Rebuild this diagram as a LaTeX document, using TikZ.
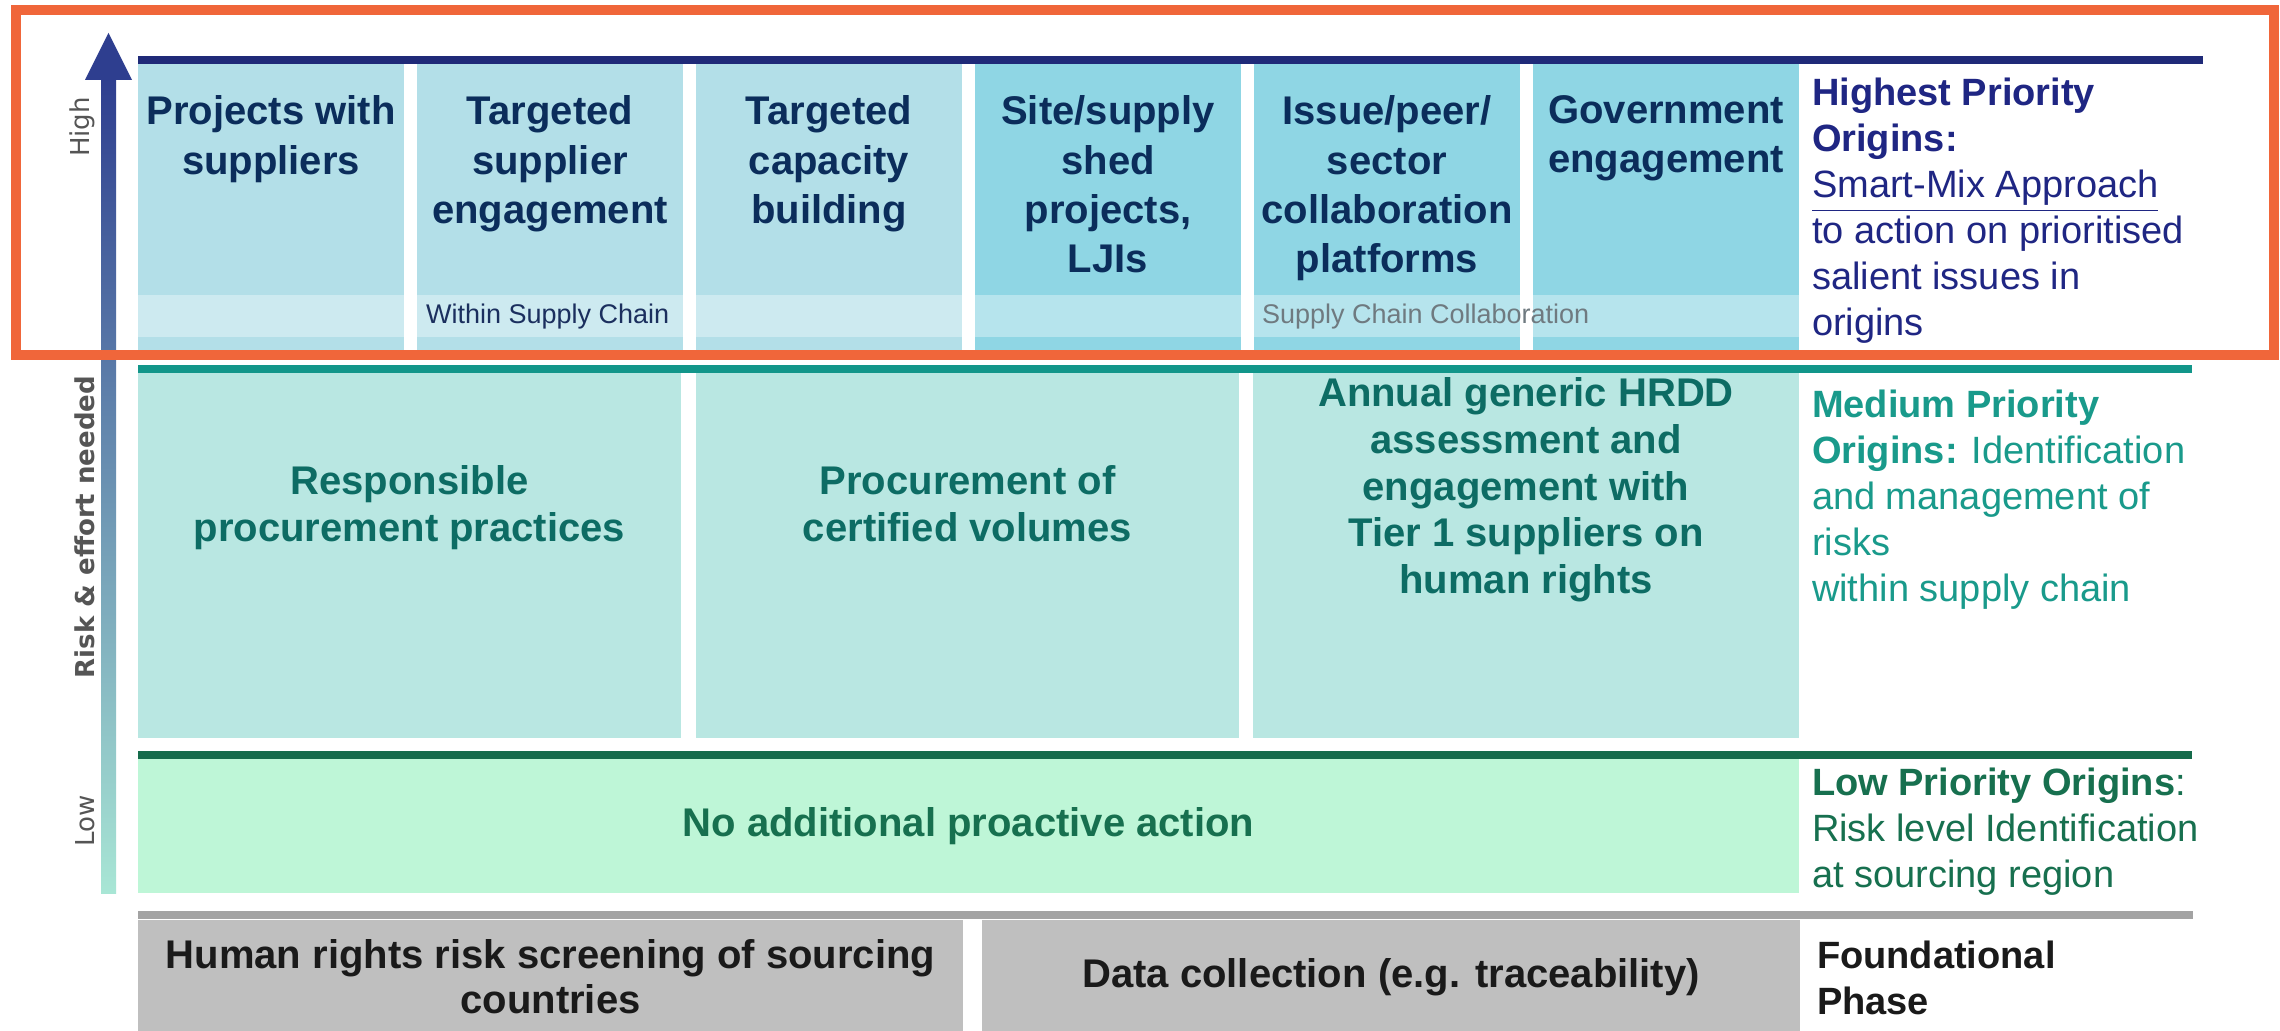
\documentclass[tikz,border=0pt]{standalone}
\usepackage{fontspec}
\setmainfont{Liberation Sans}
\newfontfamily\dvs{DejaVu Sans}
\definecolor{orangeR}{HTML}{F0663A}
\definecolor{navyL}{HTML}{1F2A78}
\definecolor{colL}{HTML}{B3DFE8}
\definecolor{colD}{HTML}{8FD6E4}
\definecolor{topTxt}{HTML}{0B2D5B}
\definecolor{hiTxt}{HTML}{1F2683}
\definecolor{bandTxt}{HTML}{1B2F5E}
\definecolor{bandGray}{HTML}{6F7A80}
\definecolor{tealL}{HTML}{12968A}
\definecolor{midBox}{HTML}{B9E7E2}
\definecolor{midTxt}{HTML}{0D6C64}
\definecolor{medTxt}{HTML}{199A8B}
\definecolor{greenL}{HTML}{156B4B}
\definecolor{lowBox}{HTML}{BEF6D7}
\definecolor{lowTxt}{HTML}{17704F}
\definecolor{grayL}{HTML}{A3A3A3}
\definecolor{grayBox}{HTML}{BFBFBF}
\definecolor{darkTxt}{HTML}{1A1A1A}
\definecolor{arrTop}{HTML}{2E3E8F}
\definecolor{arrMid}{HTML}{6E9CBF}
\definecolor{arrBot}{HTML}{A8E6D5}
\definecolor{axisTxt}{HTML}{555555}
\newcommand\fTop{\fontsize{11.38pt}{13.94pt}\selectfont\bfseries}
\newcommand\fMid{\fontsize{11.38pt}{13.23pt}\selectfont\bfseries}
\newcommand\fFnd{\fontsize{11.38pt}{12.8pt}\selectfont\bfseries}
\newcommand\fRight{\fontsize{10.81pt}{13.09pt}\selectfont}
\newcommand\fBand{\fontsize{7.68pt}{9pt}\selectfont}
\newcommand\fAxis{\dvs\fontsize{7.4pt}{9pt}\selectfont}
\begin{document}
\begin{tikzpicture}[x=0.01cm,y=-0.01cm,
  every node/.style={inner sep=0pt,outer sep=0pt},
  toptxt/.style={font=\fTop,text=topTxt,align=center,anchor=north},
  midtxt/.style={font=\fMid,text=midTxt,align=center,anchor=north},
  fndtxt/.style={font=\fFnd,text=darkTxt,align=center},
  righttxt/.style={font=\fRight,align=left,anchor=north west},
  bandtxt/.style={font=\fBand,anchor=west},
  axistxt/.style={font=\fAxis,text=axisTxt,rotate=90},
  sepline/.style={line width=2.1pt}]
\useasboundingbox (0,0) rectangle (2280,1031);
\fill[white] (0,0) rectangle (2280,1031);

% vertical arrow
\shade[top color=arrTop,middle color=arrMid,bottom color=arrBot] (101,78) rectangle (116,893);
\fill[arrTop] (85,80) -- (108.5,33) -- (132,80) -- cycle;
\node[axistxt] (high) at (82,127) {High};
\node[axistxt,font=\fAxis\bfseries] (risk) at (85,527) {Risk \& effort needed};
\node[axistxt] (low) at (85,821) {Low};

% top tier
\draw[sepline,navyL] (138,60) -- (2203,60);
\foreach \i/\c in {0/colL,1/colL,2/colL,3/colD,4/colD,5/colD}{
  \fill[\c] ({138+279*\i},64) rectangle ({404+279*\i},350);
  \fill[white,opacity=0.35] ({138+279*\i},295) rectangle ({404+279*\i},337);
}
\node[toptxt] (t1) at (271,96) {Projects with\\suppliers};
\node[toptxt] (t2) at (550,96) {Targeted\\supplier\\engagement};
\node[toptxt] (t3) at (829,96) {Targeted\\capacity\\building};
\node[toptxt] (t4) at (1108,96) {Site/supply\\shed\\projects,\\LJIs};
\node[toptxt] (t5) at (1387,96) {Issue/peer/\\sector\\collaboration\\platforms};
\node[toptxt] (t6) at (1666,96) {Government\\engagement};
\node[bandtxt,text=bandTxt] (wsc) at (426,317) {Within Supply Chain};
\node[bandtxt,text=bandGray] (scc) at (1262,317) {Supply Chain Collaboration};
\node[righttxt,text=hiTxt] (hp) at (1812,78) {\textbf{Highest Priority}\\\textbf{Origins:}\\\underline{Smart-Mix Approach}\\to action on prioritised\\salient issues in\\origins};

% medium tier
\draw[sepline,tealL] (138,369) -- (2192,369);
\fill[midBox] (138,373) rectangle (681,738);
\fill[midBox] (696,373) rectangle (1239,738);
\fill[midBox] (1253,373) rectangle (1799,738);
\node[midtxt] (m1) at (409.5,466) {Responsible\\procurement practices};
\node[midtxt] (m2) at (967.5,466) {Procurement of\\certified volumes};
\node[midtxt] (m3) at (1526,378) {Annual generic HRDD\\assessment and\\engagement with\\Tier 1 suppliers on\\human rights};
\node[righttxt,text=medTxt] (mp) at (1812,390) {\textbf{Medium Priority}\\\textbf{Origins:} Identification\\and management of\\risks\\within supply chain};

% low tier
\draw[sepline,greenL] (138,755) -- (2192,755);
\fill[lowBox] (138,759) rectangle (1799,893);
\node[font=\fMid,text=lowTxt] (l1) at (968.5,826) {No additional proactive action};
\node[righttxt,text=lowTxt] (lp) at (1812,768) {\textbf{Low Priority Origins}:\\Risk level Identification\\at sourcing region};

% foundational
\draw[sepline,grayL] (138,915) -- (2193,915);
\fill[grayBox] (138,920) rectangle (963,1031);
\fill[grayBox] (982,920) rectangle (1800,1031);
\node[fndtxt] (f1) at (550.5,977) {Human rights risk screening of sourcing\\countries};
\node[fndtxt] (f2) at (1391,977) {Data collection (e.g. traceability)};
\node[righttxt,text=darkTxt] (fp) at (1817,941) {\textbf{Foundational}\\\textbf{Phase}};

% highlight frame
\draw[orangeR,line width=2.6pt] (16,10) rectangle (2274,355);
\end{tikzpicture}
\end{document}
